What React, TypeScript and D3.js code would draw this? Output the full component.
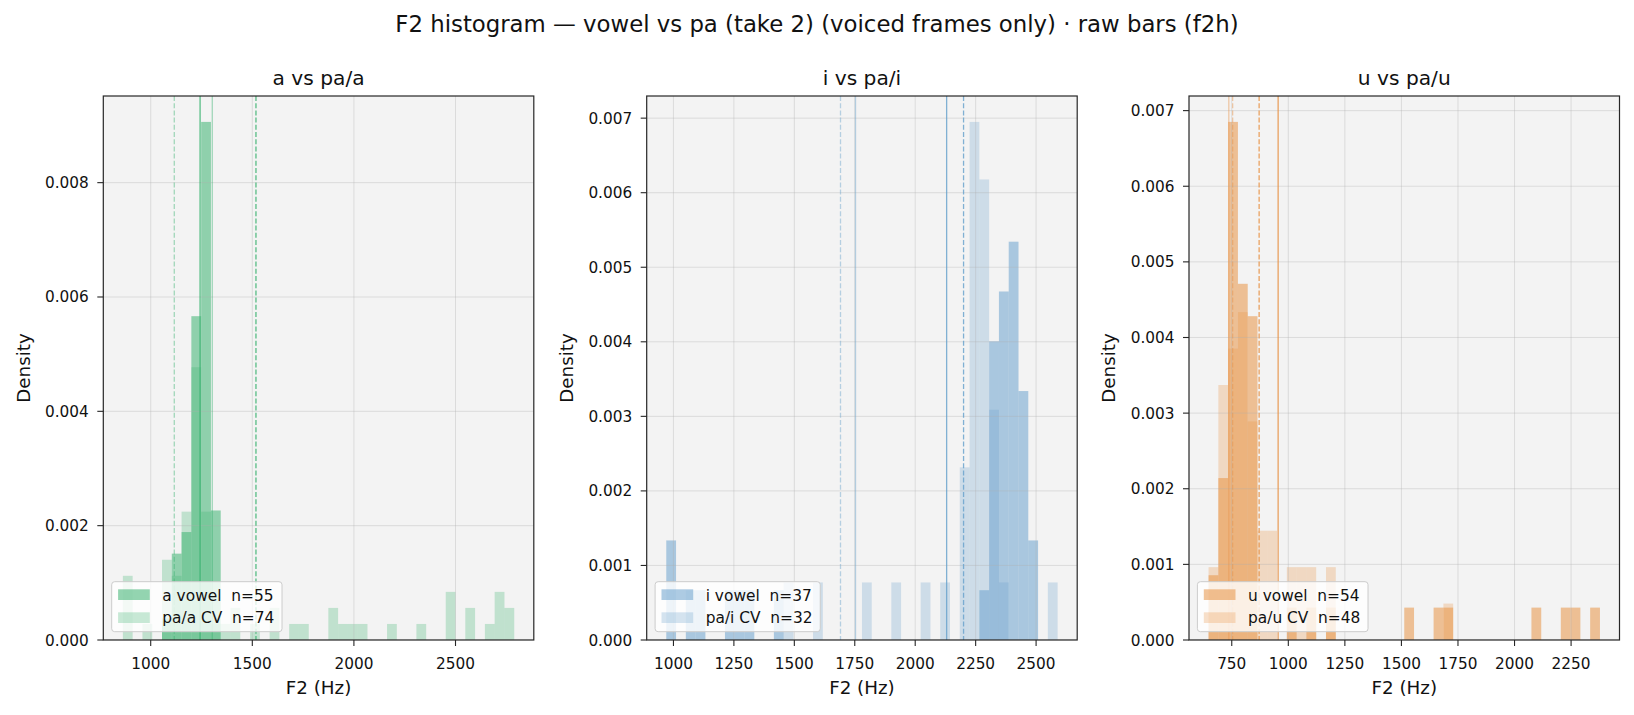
import React from 'react';
import * as d3 from 'd3';

const W = 1634;
const H = 715;
const FONT = '"DejaVu Sans", "Liberation Sans", sans-serif';

const suptitle = 'F2 histogram — vowel vs pa (take 2) (voiced frames only) · raw bars (f2h)';
const panelTitles = ['a vs pa/a', 'i vs pa/i', 'u vs pa/u'];
const vowelLabels = ['a vowel', 'i vowel', 'u vowel'];
const cvLabels = ['pa/a CV', 'pa/i CV', 'pa/u CV'];
const vowelN = [55, 37, 54];
const cvN = [74, 32, 48];

// shared histogram bins (40 bins per panel)
const binStart = [863, 970.3, 647.5];
const binWidth = [48.15, 40.47, 43.25];

// counts per bin
const vowelA = [0,0,0,0,1,4,5,15,24,6, 0,0,0,0,0,0,0,0,0,0, 0,0,0,0,0,0,0,0,0,0, 0,0,0,0,0,0,0,0,0,0];
const cvA    = [4,0,1,0,5,4,8,17,8,1, 1,2,0,1,0,2,0,1,1,0, 0,2,1,1,1,0,0,1,0,0, 1,0,0,3,0,2,0,1,3,2];
const vowelI = [2,0,1,1,0,0,1,1,1,0, 0,1,0,0,0,0,0,0,0,0, 0,0,0,0,0,0,0,0,0,0, 0,0,1,6,7,8,5,2,0,0];
const cvI    = [0,0,0,0,0,0,0,0,0,0, 0,0,1,0,0,1,0,0,0,0, 1,0,0,1,0,0,1,0,1,0, 3,9,8,4,1,0,0,0,0,1];
const vowelU = [2,5,16,11,10,0,0,0,1,0, 1,0,1,0,0,0,0,0,0,0, 1,0,0,1,1,0,0,0,0,0, 0,0,0,1,0,0,1,1,0,1];
const cvU    = [2,7,8,9,6,3,3,0,2,2, 2,0,2,0,0,0,0,0,0,0, 0,0,0,0,1,0,0,0,0,0, 0,0,0,0,0,0,0,0,0,0];

const xTicksA = [1000, 1500, 2000, 2500];
const xTicksI = [1000, 1250, 1500, 1750, 2000, 2250, 2500];
const xTicksU = [750, 1000, 1250, 1500, 1750, 2000, 2250];
const yTicksA = [0, 0.002, 0.004, 0.006, 0.008];
const yTicksI = [0, 0.001, 0.002, 0.003, 0.004, 0.005, 0.006, 0.007];
const yTicksU = [0, 0.001, 0.002, 0.003, 0.004, 0.005, 0.006, 0.007];

const baseColors = ['#3cb371', '#6ba3cd', '#e89346'];

// reference lines: value, dashed?, strong?
const vlinesA = [
  { v: 1243, dashed: false, strong: true },
  { v: 1303, dashed: false, strong: false },
  { v: 1116, dashed: true, strong: false },
  { v: 1518, dashed: true, strong: true },
];
const vlinesI = [
  { v: 2130, dashed: false, strong: true },
  { v: 1753, dashed: false, strong: false },
  { v: 1691, dashed: true, strong: false },
  { v: 2200, dashed: true, strong: true },
];
const vlinesU = [
  { v: 955, dashed: false, strong: true },
  { v: 737, dashed: false, strong: false },
  { v: 754, dashed: true, strong: false },
  { v: 871, dashed: true, strong: true },
];

const vowelCounts = [vowelA, vowelI, vowelU];
const cvCounts = [cvA, cvI, cvU];
const xTicks = [xTicksA, xTicksI, xTicksU];
const yTicks = [yTicksA, yTicksI, yTicksU];
const vlines = [vlinesA, vlinesI, vlinesU];

// layout
const axLeft = [103.3, 646.7, 1189];
const axW = 430.5;
const axTop = 96;
const axBottom = 640;

const TICK_FS = 15.3;
const LABEL_FS = 18.3;
const TITLE_FS = 20.2;
const SUP_FS = 22.8;
const LEG_FS = 15.4;

let ctx: CanvasRenderingContext2D | null = null;
function textWidth(s: string, size: number) {
  if (!ctx) ctx = document.createElement('canvas').getContext('2d');
  if (!ctx) return s.length * size * 0.6;
  ctx.font = `${size}px "DejaVu Sans"`;
  return ctx.measureText(s).width;
}

function Panel({ i }: { i: number }) {
  const L = axLeft[i];
  const R = L + axW;
  const start = binStart[i];
  const w = binWidth[i];
  const nb = vowelCounts[i].length;
  const end = start + nb * w;
  const range = end - start;
  const x = d3.scaleLinear().domain([start - 0.05 * range, end + 0.05 * range]).range([L, R]);
  const vd = vowelCounts[i].map((c) => c / (vowelN[i] * w));
  const cd = cvCounts[i].map((c) => c / (cvN[i] * w));
  const ymax = 1.05 * (d3.max([...vd, ...cd]) as number);
  const y = d3.scaleLinear().domain([0, ymax]).range([axBottom, axTop]);
  const col = baseColors[i];
  const clipId = `clip${i}`;

  const bars = (dens: number[], alpha: number, key: string) =>
    dens.map((d, k) => {
      if (d <= 0) return null;
      const x0 = x(start + k * w);
      const x1 = x(start + (k + 1) * w);
      return (
        <rect key={key + k} x={x0} y={y(d)} width={x1 - x0} height={y(0) - y(d)} fill={col} fillOpacity={alpha} />
      );
    });

  const fmt = d3.format('.3f');
  const l1 = `${vowelLabels[i]}\u00a0 n=${vowelN[i]}`;
  const l2 = `${cvLabels[i]}\u00a0 n=${cvN[i]}`;
  const tw = Math.max(textWidth(l1, LEG_FS), textWidth(l2, LEG_FS));
  const legL = L + 8.4;
  const legB = axBottom - 8.3;
  const legH = 50;
  const legW = 50.6 + tw + 7.7;
  const legT = legB - legH;

  return (
    <g>
      <defs>
        <clipPath id={clipId}>
          <rect x={L} y={axTop} width={axW} height={axBottom - axTop} />
        </clipPath>
      </defs>
      <rect x={L} y={axTop} width={axW} height={axBottom - axTop} fill="#f3f3f3" />
      <g clipPath={`url(#${clipId})`}>
        {bars(vd, 0.55, 'v')}
        {bars(cd, 0.28, 'c')}
        {xTicks[i].map((t) => (
          <line key={'gx' + t} x1={x(t)} x2={x(t)} y1={axTop} y2={axBottom} stroke="#b0b0b0" strokeOpacity={0.35} strokeWidth={1} />
        ))}
        {yTicks[i].map((t) => (
          <line key={'gy' + t} x1={L} x2={R} y1={y(t)} y2={y(t)} stroke="#b0b0b0" strokeOpacity={0.35} strokeWidth={1} />
        ))}
        {vlines[i].map((vl, k) => (
          <line
            key={'vl' + k}
            x1={x(vl.v)}
            x2={x(vl.v)}
            y1={axTop}
            y2={axBottom}
            stroke={col}
            strokeOpacity={vl.strong ? 0.85 : 0.45}
            strokeWidth={1.3}
            strokeDasharray={vl.dashed ? '5,2.2' : undefined}
          />
        ))}
      </g>
      {/* legend */}
      <rect x={legL} y={legT} width={legW} height={legH} rx={3} ry={3} fill="#ffffff" fillOpacity={0.8} stroke="#cccccc" strokeWidth={1} />
      <rect x={legL + 6.4} y={legT + 7.6} width={31.7} height={10.7} fill={col} fillOpacity={0.55} />
      <rect x={legL + 6.4} y={legT + 30.6} width={31.7} height={10.7} fill={col} fillOpacity={0.28} />
      <text x={legL + 50.6} y={legT + 18.8} fontSize={LEG_FS} fill="#111" xmlSpace="preserve">{l1}</text>
      <text x={legL + 50.6} y={legT + 41.5} fontSize={LEG_FS} fill="#111" xmlSpace="preserve">{l2}</text>
      {/* spines */}
      <rect x={L} y={axTop} width={axW} height={axBottom - axTop} fill="none" stroke="#262626" strokeWidth={1.2} />
      {/* x ticks */}
      {xTicks[i].map((t) => (
        <g key={'xt' + t}>
          <line x1={x(t)} x2={x(t)} y1={axBottom} y2={axBottom + 6} stroke="#262626" strokeWidth={1.1} />
          <text x={x(t)} y={669.3} textAnchor="middle" fontSize={TICK_FS} fill="#111">{t}</text>
        </g>
      ))}
      {/* y ticks */}
      {yTicks[i].map((t) => (
        <g key={'yt' + t}>
          <line x1={L - 6} x2={L} y1={y(t)} y2={y(t)} stroke="#262626" strokeWidth={1.1} />
          <text x={L - 14.5} y={y(t)} dy="0.36em" textAnchor="end" fontSize={TICK_FS} fill="#111">{fmt(t)}</text>
        </g>
      ))}
      <text x={(L + R) / 2} y={694} textAnchor="middle" fontSize={LABEL_FS} fill="#111">F2 (Hz)</text>
      <text
        transform={`translate(${L - 80},${(axTop + axBottom) / 2}) rotate(-90)`}
        textAnchor="middle"
        dy="0.35em"
        fontSize={LABEL_FS}
        fill="#111"
      >
        Density
      </text>
      <text x={(L + R) / 2} y={85} textAnchor="middle" fontSize={TITLE_FS} fill="#111">{panelTitles[i]}</text>
    </g>
  );
}

export default function App() {
  return (
    <svg
      width={W}
      height={H}
      style={{ position: 'absolute', left: 0, top: 0, display: 'block' }}
      fontFamily={FONT}
    >
      <rect width={W} height={H} fill="#ffffff" />
      <text x={817} y={31.5} textAnchor="middle" fontSize={SUP_FS} fill="#111">{suptitle}</text>
      {[0, 1, 2].map((i) => (
        <Panel key={i} i={i} />
      ))}
    </svg>
  );
}
